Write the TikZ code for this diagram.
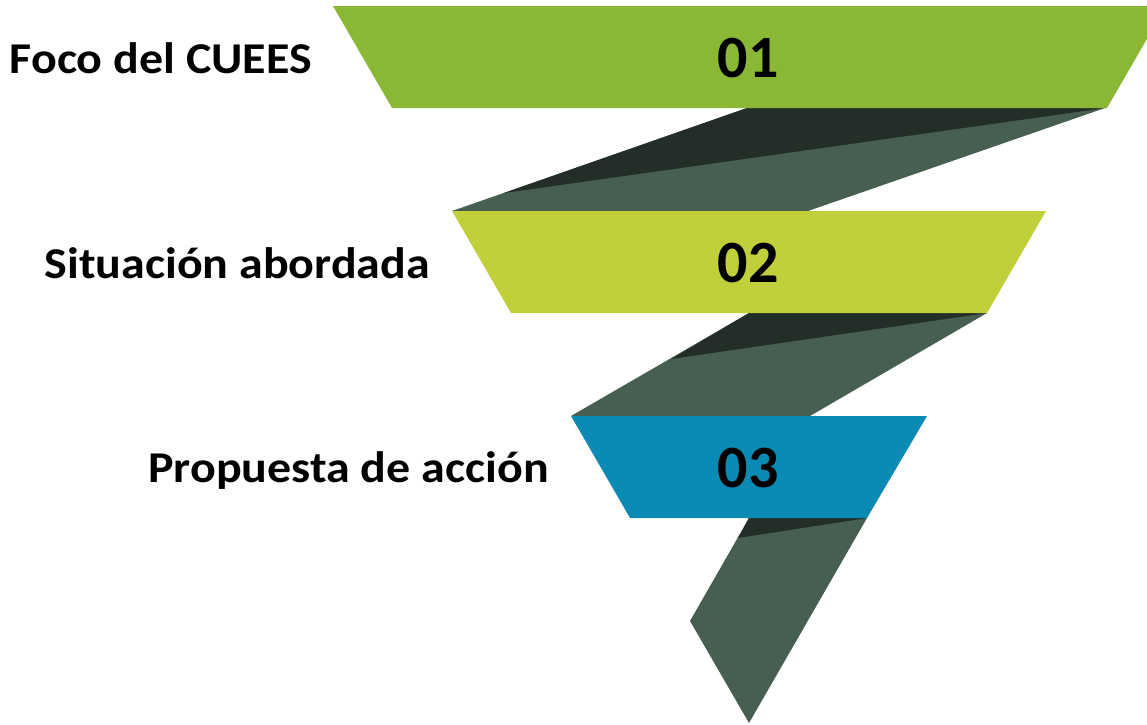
\documentclass[tikz,border=0pt]{standalone}
\usepackage{fontspec}
\setmainfont{Carlito}
\newfontfamily\widefont[FakeStretch=1.09]{Carlito}
\definecolor{bandA}{HTML}{8BB834}
\definecolor{bandB}{HTML}{C1D03A}
\definecolor{bandC}{HTML}{0B8AB3}
\definecolor{ribbonc}{HTML}{465F50}
\definecolor{ribbond}{HTML}{222E27}
\tikzset{
  ribbon/.style={fill=ribbonc},
  fold/.style={fill=ribbond},
  label/.style={anchor=base east, inner sep=0pt, font=\widefont\bfseries\fontsize{44}{52}\selectfont},
  num/.style={anchor=base, inner sep=0pt, font=\bfseries\fontsize{60}{72}\selectfont}
}
\begin{document}
\begin{tikzpicture}[x=1pt,y=-1pt]
\useasboundingbox (0,0) rectangle (1147,724);
\clip (0,0) rectangle (1147,724);
% ribbons
\fill[ribbon] (747,108) -- (1105,108) -- (808,211) -- (452,211) -- cycle;
\fill[fold] (747,108) -- (1105,108) -- (504,193) -- cycle;
\fill[ribbon] (749,313) -- (987,313) -- (810,416) -- (571,416) -- cycle;
\fill[fold] (749,313) -- (987,313) -- (671,359) -- cycle;
\fill[ribbon] (749,518) -- (867,518) -- (749,723) -- (690,621) -- cycle;
\fill[fold] (749,518) -- (867,518) -- (738,538) -- cycle;
% bands
\fill[bandA] (333,6) -- (1166,6) -- (1107,108) -- (392,108) -- cycle;
\fill[bandB] (452,211) -- (1046,211) -- (987,313) -- (511,313) -- cycle;
\fill[bandC] (571,416) -- (927,416) -- (867,518) -- (630,518) -- cycle;
% numbers
\node[num] (n1) at (748,77) {01};
\node[num] (n2) at (748,282) {02};
\node[num] (n3) at (748,487) {03};
% labels
\node[label] (l1) at (312,73) {Foco del CUEES};
\node[label] (l2) at (430,278) {Situación abordada};
\node[label] (l3) at (549,482) {Propuesta de acción};
\end{tikzpicture}
\end{document}
